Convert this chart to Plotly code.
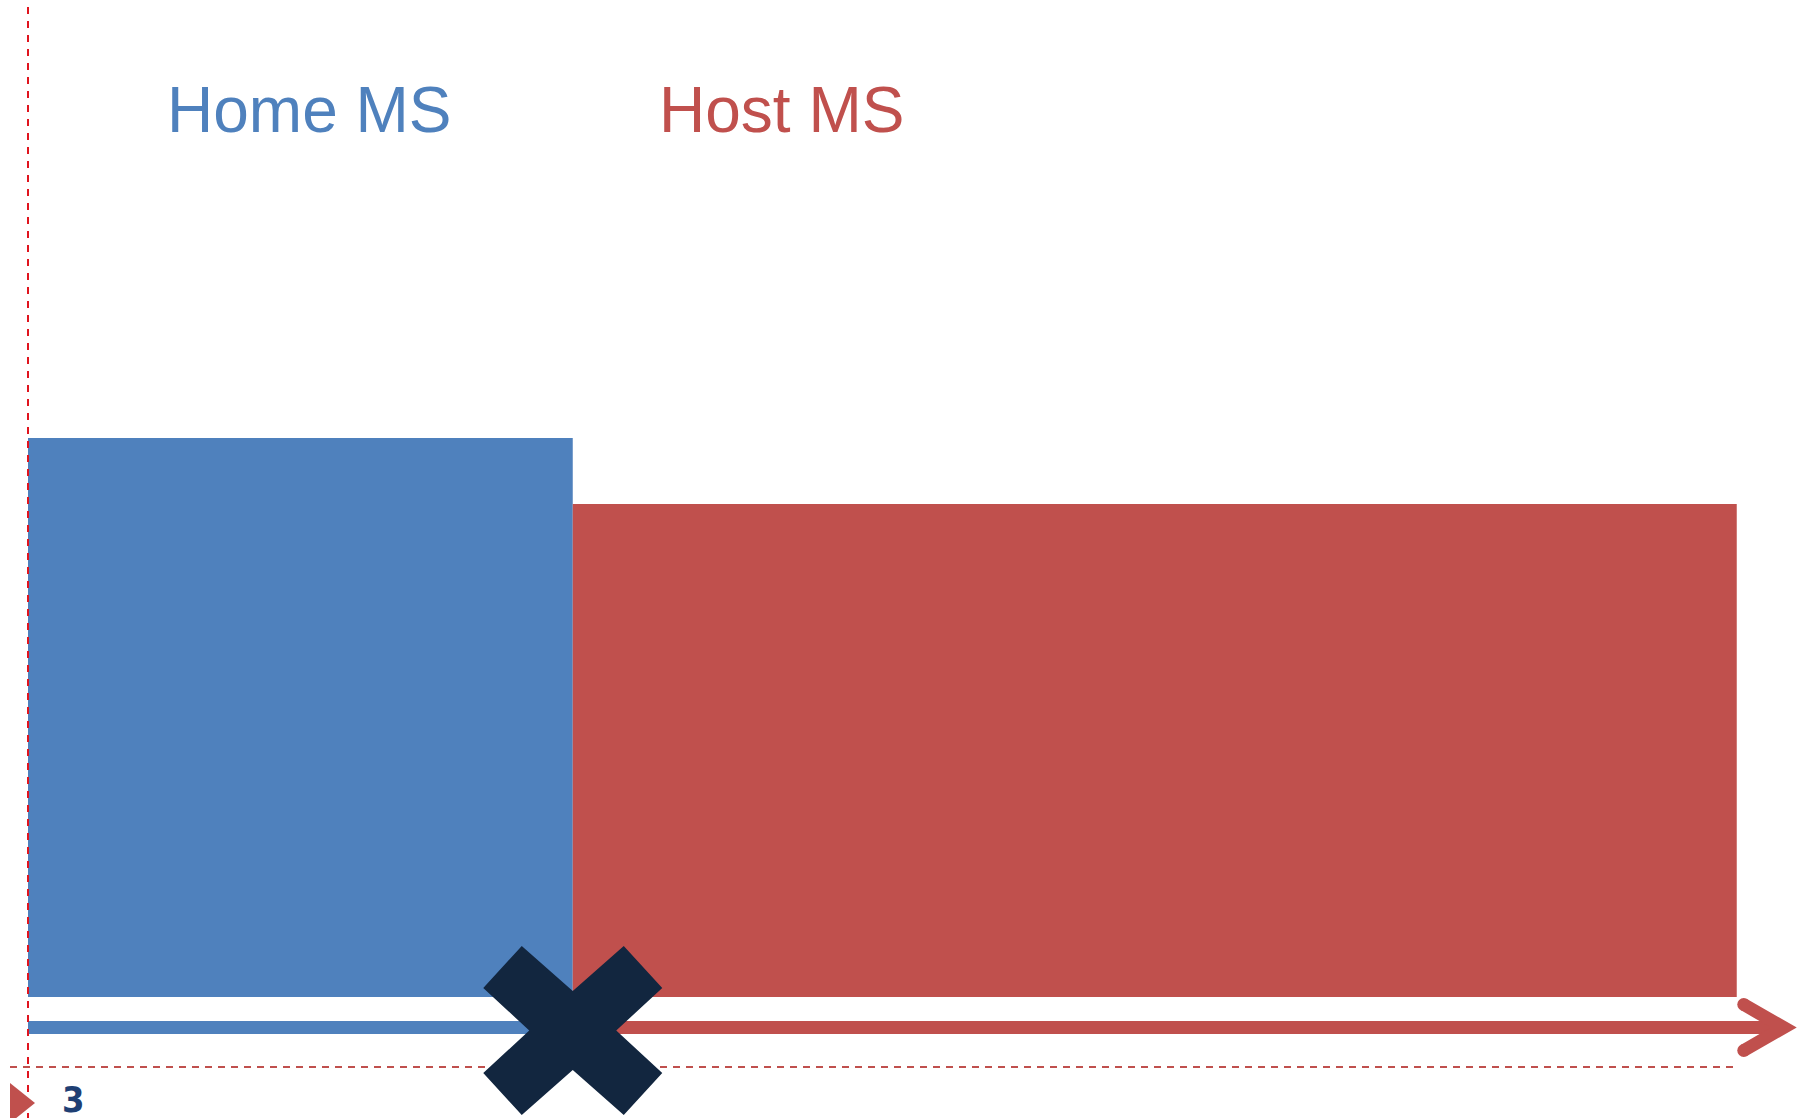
import plotly.graph_objects as go

# Stay periods: length of each stay on the timeline and the bar height for it
periods = ["Home MS", "Host MS"]
durations = [4.68, 10.0]
heights = [10.0, 8.82]
colors = ["#4f81bd", "#c0504d"]
slide_number = "3"

W, H = 1799, 1118
X0, PX_X = 28, 116.4     # timeline origin (px) and px per time unit
Y0, PX_Y = 997, 55.9     # bar baseline (px) and px per height unit


def dx(px):
    return px / PX_X


def dy(px):
    return px / PX_Y


def ypx(p):
    """Pixel row (from top) to y data value."""
    return (Y0 - p) / PX_Y


starts = [sum(durations[:i]) for i in range(len(durations))]
centers = [s + d / 2 for s, d in zip(starts, durations)]
switch = starts[1]
end = starts[-1] + durations[-1]

fig = go.Figure()
fig.add_trace(go.Bar(
    x=centers, y=heights, width=durations, base=0,
    marker=dict(color=colors, line=dict(width=0)),
    hoverinfo="skip", showlegend=False,
))

shapes = []
line_y = ypx(1027.5)
half = dy(6.5)

# timeline shaft: blue for the home stay, red for the host stay
shapes.append(dict(type="rect", xref="x", yref="y", x0=0, x1=switch,
                   y0=line_y - half, y1=line_y + half,
                   fillcolor=colors[0], line=dict(width=0), layer="above"))
shapes.append(dict(type="rect", xref="x", yref="y", x0=switch, x1=end + dx(44),
                   y0=line_y - half, y1=line_y + half,
                   fillcolor=colors[1], line=dict(width=0), layer="above"))

# arrowhead chevron with rounded ends
ex = end + dx(7)
e1, e2 = line_y + dy(23), line_y - dy(23)
pts = [
    (ex + dx(3.2), e1 + dy(5.6)),
    (end + dx(60), line_y),
    (ex + dx(3.2), e2 - dy(5.6)),
    (ex - dx(3.2), e2 + dy(5.6)),
    (end + dx(34), line_y),
    (ex - dx(3.2), e1 - dy(5.6)),
]
path = "M " + " L ".join(f"{x},{y}" for x, y in pts) + " Z"
shapes.append(dict(type="path", xref="x", yref="y", path=path,
                   fillcolor=colors[1], line=dict(width=0), layer="above"))
for cy in (e1, e2):
    shapes.append(dict(type="circle", xref="x", yref="y",
                       x0=ex - dx(6.5), x1=ex + dx(6.5),
                       y0=cy - dy(6.5), y1=cy + dy(6.5),
                       fillcolor=colors[1], line=dict(width=0), layer="above"))

# dashed guide lines
shapes.append(dict(type="line", xref="x", yref="y",
                   x0=-dx(18), x1=end + dx(1), y0=ypx(1067), y1=ypx(1067),
                   line=dict(color="#c0504d", width=2, dash="7px,6px"), layer="above"))
shapes.append(dict(type="line", xref="x", yref="y",
                   x0=0, x1=0, y0=ypx(7), y1=ypx(1118),
                   line=dict(color="#e0141e", width=2, dash="7px,7px"), layer="above"))

# cross marking the move between member states
cy = ypx(1030.5)
cross = [(-51, 84.5), (0, 39.5), (51, 84.5), (89.5, 42.5), (43.5, 0), (89.5, -42.5),
         (51, -84.5), (0, -39.5), (-51, -84.5), (-89.5, -42.5), (-43.5, 0), (-89.5, 42.5)]
cpath = "M " + " L ".join(f"{switch + dx(a)},{cy + dy(b)}" for a, b in cross) + " Z"
shapes.append(dict(type="path", xref="x", yref="y", path=cpath,
                   fillcolor="#12263f", line=dict(width=0), layer="above"))

# slide marker triangle
shapes.append(dict(type="path", xref="paper", yref="paper",
                   path=f"M {10/W},{1-1083/H} L {35/W},{1-1103/H} L {10/W},{1-1123/H} Z",
                   fillcolor="#c0504d", line=dict(width=0), layer="above"))

annotations = [
    dict(text=periods[0], xref="paper", yref="paper", x=165 / W, y=1 - 110 / H,
         xanchor="left", yanchor="middle", showarrow=False,
         font=dict(family="Liberation Sans, Arial, sans-serif", size=64, color=colors[0])),
    dict(text=periods[1], xref="paper", yref="paper", x=657 / W, y=1 - 110 / H,
         xanchor="left", yanchor="middle", showarrow=False,
         font=dict(family="Liberation Sans, Arial, sans-serif", size=64, color=colors[1])),
    dict(text=f"<b>{slide_number}</b>", xref="paper", yref="paper", x=60 / W, y=1 - 1099.5 / H,
         xanchor="left", yanchor="middle", showarrow=False,
         font=dict(family="Liberation Sans Narrow, DejaVu Sans Condensed, sans-serif",
                   size=36, color="#1f3f74")),
]

fig.update_layout(
    width=W, height=H,
    margin=dict(l=0, r=0, t=0, b=0),
    paper_bgcolor="white", plot_bgcolor="white",
    showlegend=False,
    xaxis=dict(range=[-X0 / PX_X, (W - X0) / PX_X], visible=False, fixedrange=True),
    yaxis=dict(range=[-(H - Y0) / PX_Y, Y0 / PX_Y], visible=False, fixedrange=True),
    shapes=shapes,
    annotations=annotations,
)

fig.write_html("out.html", config={"displayModeBar": False})
